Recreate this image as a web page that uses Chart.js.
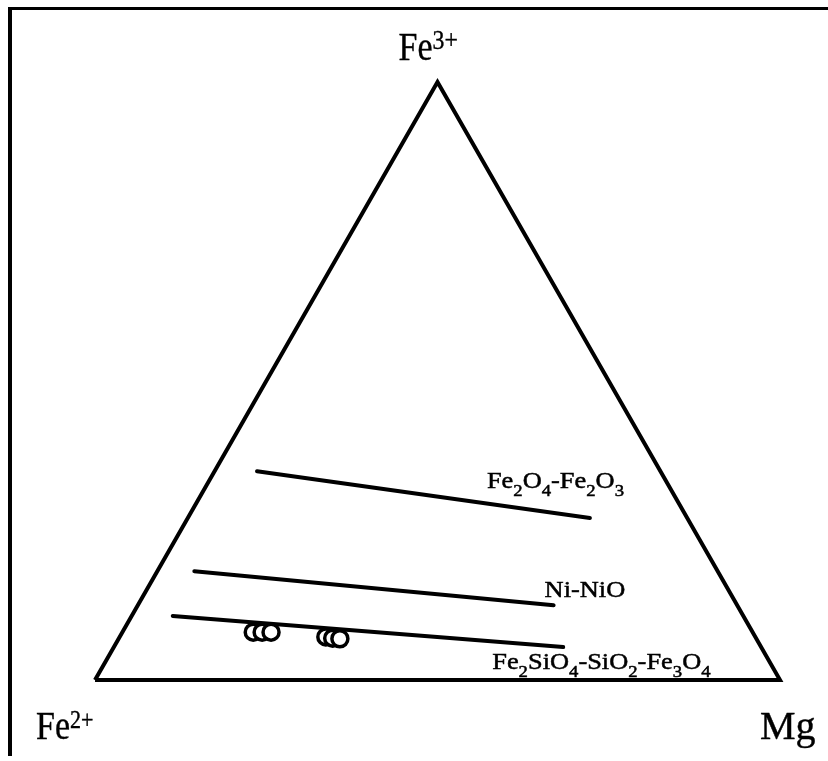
<!DOCTYPE html>
<html>
<head>
<meta charset="utf-8">
<script src="https://cdn.jsdelivr.net/npm/chart.js@4/dist/chart.umd.min.js"></script>
<style>
  html, body { margin: 0; padding: 0; background: #fff; }
  #wrap { width: 828px; height: 761px; position: relative; }
</style>
</head>
<body>
<div id="wrap"><canvas id="chart"></canvas></div>
<script>
// ternary corners, as [Fe3+ %, Mg %]
const cornerNames = ['Fe^{2+}', 'Mg', 'Fe^{3+}']
const cornerFe3 = [0, 0, 100]
const cornerMg = [0, 100, 0]

// buffer lines
const bufferNames = ['Fe_2O_4-Fe_2O_3', 'Ni-NiO', 'Fe_2SiO_4-SiO_2-Fe_3O_4']
const bufferStartFe3 = [34.9, 18.2, 10.7]
const bufferStartMg = [6.2, 5.4, 6.0]
const bufferEndFe3 = [27.1, 12.5, 5.5]
const bufferEndMg = [58.7, 60.7, 65.6]

// samples
const sampleFe3 = [8.0, 8.0, 8.0, 7.2, 7.0, 6.9]
const sampleMg = [19.1, 20.4, 21.7, 30.1, 31.2, 32.3]

// ternary -> cartesian (base 0..100, y = Fe3+ %)
const toXY = (fe3, mg) => ({ x: mg + fe3 / 2, y: fe3 })

const FONT = '"Liberation Serif", "Times New Roman", serif'

// where each text sits, relative to its anchor point (pixels)
const cornerLayout = [
    { dx: -59, dy: 59, size: 40, sup: 26, raise: 11, stretch: 0.85, weight: 0.4 },
    { dx: -20, dy: 59, size: 40, sup: 26, raise: 11, stretch: 1.0, weight: 0.4 },
    { dx: -39, dy: -22, size: 40, sup: 28, raise: 11, stretch: 0.85, weight: 0.4 }
]
const bufferLayout = [
    { dx: -103, dy: -30 },
    { dx: -9, dy: -8 },
    { dx: -71, dy: 22 }
]

function parseRich(str) {
    const parts = []
    let i = 0
    while (i < str.length) {
        const c = str[i]
        if (c === '_') {
            parts.push({ t: str[i + 1], k: 'sub' })
            i += 2
        } else if (c === '^' && str[i + 1] === '{') {
            const end = str.indexOf('}', i)
            parts.push({ t: str.slice(i + 2, end), k: 'sup' })
            i = end + 1
        } else {
            const last = parts[parts.length - 1]
            if (last && last.k === 'n') last.t += c
            else parts.push({ t: c, k: 'n' })
            i++
        }
    }
    return parts
}

function drawRich(ctx, str, x, y, o) {
    const parts = parseRich(str)
    ctx.save()
    ctx.translate(x, y)
    ctx.scale(o.stretch || 1, 1)
    ctx.fillStyle = '#000'
    ctx.strokeStyle = '#000'
    ctx.lineWidth = o.weight || 0
    ctx.textBaseline = 'alphabetic'
    ctx.textAlign = 'left'
    let cx = 0
    for (const p of parts) {
        let size = o.size, off = 0
        if (p.k === 'sub') { size = o.sub; off = o.lower }
        if (p.k === 'sup') { size = o.sup; off = -o.raise }
        ctx.font = size + 'px ' + FONT
        ctx.fillText(p.t, cx, off)
        if (o.weight) ctx.strokeText(p.t, cx, off)
        cx += ctx.measureText(p.t).width
    }
    ctx.restore()
}

const decorations = {
    id: 'decorations',
    afterDatasetsDraw(chart) {
        const ctx = chart.ctx
        const xs = chart.scales.x, ys = chart.scales.y
        // frame
        ctx.save()
        ctx.fillStyle = '#000'
        ctx.fillRect(8, 7, 820, 3)
        ctx.fillRect(8, 7, 4, 749)
        ctx.restore()

        cornerNames.forEach((name, i) => {
            const p = toXY(cornerFe3[i], cornerMg[i])
            const l = cornerLayout[i]
            drawRich(ctx, name, xs.getPixelForValue(p.x) + l.dx, ys.getPixelForValue(p.y) + l.dy, l)
        })
        bufferNames.forEach((name, i) => {
            const p = toXY(bufferEndFe3[i], bufferEndMg[i])
            const l = bufferLayout[i]
            drawRich(ctx, name, xs.getPixelForValue(p.x) + l.dx, ys.getPixelForValue(p.y) + l.dy,
                { size: 24, sub: 17, lower: 8, stretch: 1.1, weight: 0.5 })
        })
    }
}

const triangle = [0, 1, 2, 0].map(i => toXY(cornerFe3[i], cornerMg[i]))

const datasets = [
    {
        label: 'samples',
        data: sampleFe3.map((f, i) => toXY(f, sampleMg[i])),
        pointRadius: 8,
        pointBorderWidth: 3.5,
        pointBorderColor: '#000',
        pointBackgroundColor: '#fff',
        showLine: false,
        order: 0
    },
    {
        label: 'triangle',
        data: triangle,
        showLine: true,
        borderColor: '#000',
        borderWidth: 4,
        pointRadius: 0,
        borderJoinStyle: 'miter',
        order: 1
    }
]
bufferNames.forEach((name, i) => {
    datasets.push({
        label: name,
        data: [toXY(bufferStartFe3[i], bufferStartMg[i]), toXY(bufferEndFe3[i], bufferEndMg[i])],
        showLine: true,
        borderColor: '#000',
        borderWidth: 4,
        borderCapStyle: 'round',
        pointRadius: 0,
        order: 1
    })
})

// pixel layout of the plot: base from x=95 to x=780, base at y=680, apex at y=82
const pxPerX = 6.85, pxPerY = 5.98

new Chart(document.getElementById('chart'), {
    type: 'scatter',
    data: { datasets },
    options: {
        animation: false,
        responsive: true,
        maintainAspectRatio: false,
        clip: false,
        layout: { padding: 0, autoPadding: false },
        plugins: { legend: { display: false }, tooltip: { enabled: false } },
        scales: {
            x: { type: 'linear', display: false, min: -95 / pxPerX, max: (828 - 95) / pxPerX },
            y: { type: 'linear', display: false, min: -(761 - 680) / pxPerY, max: 680 / pxPerY }
        }
    },
    plugins: [decorations]
})
</script>
</body>
</html>
